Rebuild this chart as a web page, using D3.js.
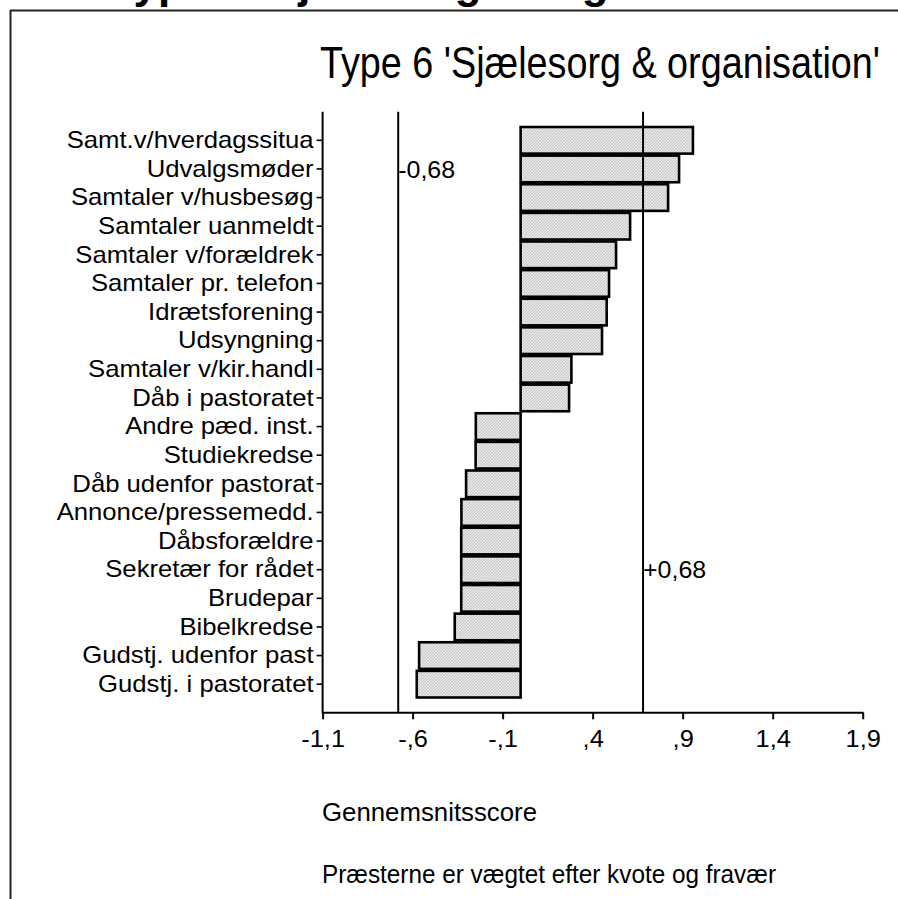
<!DOCTYPE html>
<html>
<head>
<meta charset="utf-8">
<script src="https://cdn.jsdelivr.net/npm/d3@7"></script>
<style>
  html, body { margin: 0; padding: 0; background: #fff; }
  svg { display: block; }
  text { font-family: "Liberation Sans", Arial, sans-serif; fill: #000; }
</style>
</head>
<body>
<script>
// ---------------- data ----------------
const categories = [
  "Samt.v/hverdagssitua",
  "Udvalgsmøder",
  "Samtaler v/husbesøg",
  "Samtaler uanmeldt",
  "Samtaler v/forældrek",
  "Samtaler pr. telefon",
  "Idrætsforening",
  "Udsyngning",
  "Samtaler v/kir.handl",
  "Dåb i pastoratet",
  "Andre pæd. inst.",
  "Studiekredse",
  "Dåb udenfor pastorat",
  "Annonce/pressemedd.",
  "Dåbsforældre",
  "Sekretær for rådet",
  "Brudepar",
  "Bibelkredse",
  "Gudstj. udenfor past",
  "Gudstj. i pastoratet"
];
const values = [
  0.957, 0.880, 0.819, 0.608, 0.530, 0.491, 0.478, 0.452, 0.282, 0.269,
  -0.249, -0.250, -0.303, -0.329, -0.330, -0.330, -0.330, -0.366, -0.564, -0.577
];
const xTicks = [-1.1, -0.6, -0.1, 0.4, 0.9, 1.4, 1.9];
const xTickLabels = ["-1,1", "-,6", "-,1", ",4", ",9", "1,4", "1,9"];
const xDomain = [-1.1, 1.9];
const refLines = [-0.68, 0.68];
const refLabels = ["-0,68", "+0,68"];
const refLabelRows = ["Udvalgsmøder", "Sekretær for rådet"];
const titleText = "Type 6 'Sjælesorg & organisation'";
const axisTitle = "Gennemsnitsscore";
const noteText = "Præsterne er vægtet efter kvote og fravær";

// ---------------- layout ----------------
const W = 898, H = 899;
const plotTop = 111.7, plotBottom = 712.3;

const svg = d3.select("body").append("svg")
  .attr("width", W).attr("height", H);

function stretch(sel, s) {
  sel.each(function () {
    const w = this.getComputedTextLength();
    this.setAttribute("textLength", w * s);
    this.setAttribute("lengthAdjust", "spacingAndGlyphs");
  });
}

// hatch pattern
const defs = svg.append("defs");
const pat = defs.append("pattern")
  .attr("id", "hatch").attr("patternUnits", "userSpaceOnUse")
  .attr("width", 3).attr("height", 3);
pat.append("rect").attr("width", 3).attr("height", 3).attr("fill", "#e6e6e6");
pat.append("path").attr("d", "M-1,1 L1,-1 M0,3 L3,0 M2,4 L4,2")
  .attr("stroke", "#b4b4b4").attr("stroke-width", 0.7);

// cut-off header from previous page (only its lowest part is visible)
svg.append("text")
  .attr("x", 110).attr("y", -2)
  .attr("font-size", 44).attr("font-weight", "bold")
  .text(titleText);

// page frame
svg.append("line").attr("x1", 10).attr("x2", W).attr("y1", 10.5).attr("y2", 10.5)
  .attr("stroke", "#222").attr("stroke-width", 2);
svg.append("line").attr("x1", 10.5).attr("x2", 10.5).attr("y1", 10).attr("y2", H)
  .attr("stroke", "#222").attr("stroke-width", 2);

// scales
const x = d3.scaleLinear().domain(xDomain).range([322.6, 862.7]);
const y = d3.scaleBand().domain(categories)
  .range([126, 698.5]).paddingInner(0.07).paddingOuter(0.035);

// title
svg.append("text")
  .attr("x", 320).attr("y", 78)
  .attr("font-size", 44)
  .attr("textLength", 560).attr("lengthAdjust", "spacingAndGlyphs")
  .text(titleText);

// bars
svg.append("g").selectAll("rect")
  .data(categories.map((c, i) => ({ c, v: values[i] })))
  .join("rect")
  .attr("x", d => x(Math.min(0, d.v)))
  .attr("y", d => y(d.c))
  .attr("width", d => Math.abs(x(d.v) - x(0)))
  .attr("height", y.bandwidth())
  .attr("fill", "url(#hatch)")
  .attr("stroke", "#000")
  .attr("stroke-width", 2.6);

// reference lines
svg.append("g").selectAll("line")
  .data(refLines)
  .join("line")
  .attr("x1", d => x(d)).attr("x2", d => x(d))
  .attr("y1", plotTop).attr("y2", plotBottom)
  .attr("stroke", "#000").attr("stroke-width", 2);

const refT = svg.append("g").selectAll("text")
  .data(refLines.map((v, i) => ({ v, label: refLabels[i], row: refLabelRows[i] })))
  .join("text")
  .attr("x", d => x(d.v))
  .attr("y", d => y(d.row) + y.bandwidth() / 2)
  .attr("dy", "0.36em")
  .attr("font-size", 24)
  .text(d => d.label);
stretch(refT, 1.04);

// y axis
const yAxis = svg.append("g")
  .attr("transform", `translate(${x(xDomain[0])},0)`)
  .call(d3.axisLeft(y).tickSize(6).tickPadding(3).tickSizeOuter(0));
yAxis.select(".domain").remove();
yAxis.selectAll(".tick line").attr("stroke", "#000").attr("stroke-width", 1.6);
yAxis.selectAll(".tick text")
  .attr("font-size", 24)
  .attr("font-family", "Liberation Sans, Arial, sans-serif")
  .attr("fill", "#000");
stretch(yAxis.selectAll(".tick text"), 1.07);
svg.append("line")
  .attr("x1", x(xDomain[0])).attr("x2", x(xDomain[0]))
  .attr("y1", plotTop).attr("y2", plotBottom + 1)
  .attr("stroke", "#000").attr("stroke-width", 2);

// x axis
const xAxis = svg.append("g")
  .attr("transform", `translate(0,${plotBottom})`)
  .call(d3.axisBottom(x).tickValues(xTicks)
    .tickFormat((d, i) => xTickLabels[i])
    .tickSize(7).tickPadding(11).tickSizeOuter(0));
xAxis.select(".domain").attr("stroke", "#000").attr("stroke-width", 2);
xAxis.selectAll(".tick line").attr("stroke", "#000").attr("stroke-width", 2);
xAxis.selectAll(".tick text")
  .attr("font-size", 24)
  .attr("font-family", "Liberation Sans, Arial, sans-serif")
  .attr("fill", "#000");
stretch(xAxis.selectAll(".tick text"), 1.06);

// bottom texts
svg.append("text").attr("x", 322).attr("y", 821)
  .attr("font-size", 26)
  .attr("textLength", 215).attr("lengthAdjust", "spacingAndGlyphs")
  .text(axisTitle);
svg.append("text").attr("x", 322).attr("y", 883)
  .attr("font-size", 26)
  .attr("textLength", 454).attr("lengthAdjust", "spacingAndGlyphs")
  .text(noteText);
</script>
</body>
</html>
